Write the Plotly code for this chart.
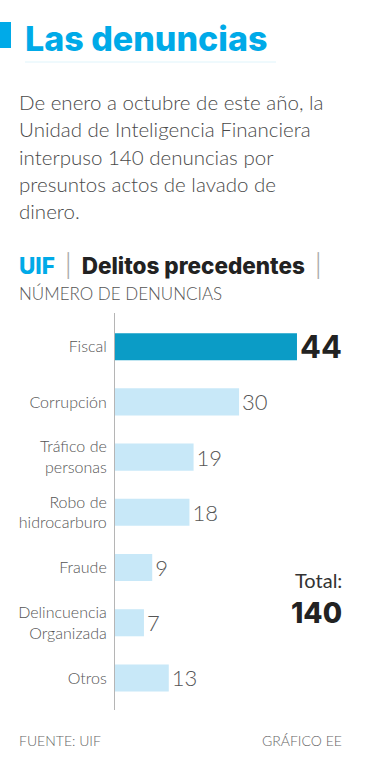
import plotly.graph_objects as go

categories = ["Fiscal", "Corrupción", "Tráfico de<br>personas", "Robo de<br>hidrocarburo",
              "Fraude", "Delincuencia<br>Organizada", "Otros"]
values = [44, 30, 19, 18, 9, 7, 13]
total = 140
title = "Las denuncias"
intro_lines = ["De enero a octubre de este año, la",
               "Unidad de Inteligencia Financiera",
               "interpuso 140 denuncias por",
               "presuntos actos de lavado de",
               "dinero."]

W, H = 368, 768
L, R, T, B = 115, 23, 313, 58
PW, PH = W - L - R, H - T - B

def px(x):
    return (x - L) / PW

def py(y):
    return (H - B - y) / PH

FONT = "Lato"
HEAVY = "Inter"
dark_bar = "#0b9cc6"
light_bar = "#c8e8f8"
cyan = "#00aae8"

colors = [dark_bar if i == 0 else light_bar for i in range(len(values))]
texts = [f"<b>{v}</b>" if i == 0 else str(v) for i, v in enumerate(values)]
tsizes = [31 if i == 0 else 22 for i in range(len(values))]
tcolors = ["#222222" if i == 0 else "#555555" for i in range(len(values))]
tfam = [HEAVY if i == 0 else FONT for i in range(len(values))]

fig = go.Figure(go.Bar(
    x=values, y=categories, orientation="h",
    marker=dict(color=colors, line=dict(width=0)),
    text=texts, textposition="outside", cliponaxis=False, constraintext="none",
    textfont=dict(family=tfam, size=tsizes, color=tcolors, weight=300),
    width=0.49, hoverinfo="skip",
))

fig.update_layout(
    width=W, height=H, margin=dict(l=L, r=R, t=T, b=B, autoexpand=False),
    paper_bgcolor="white", plot_bgcolor="white", showlegend=False,
    font=dict(family=FONT, color="#555555"),
    xaxis=dict(range=[0, PW / 4.136], visible=False, fixedrange=True),
    yaxis=dict(range=[6.58, -0.61], showline=True, linecolor="#b5b5b5", linewidth=1,
               showgrid=False, zeroline=False, ticks="", ticklabelstandoff=4,
               tickfont=dict(family=FONT, size=16, color="#555555", weight=300),
               fixedrange=True),
)

ann = []
def add(text, x, y, size, color="#555555", xanchor="left", yanchor="middle", weight=None, family=FONT):
    f = dict(family=family, size=size, color=color)
    if weight:
        f["weight"] = weight
    ann.append(dict(text=text, x=px(x), y=py(y), xref="paper", yref="paper",
                    xanchor=xanchor, yanchor=yanchor, showarrow=False, font=f,
                    align="left" if xanchor == "left" else "right"))

add(title, 23, 38, 34, color=cyan, weight=800, family=HEAVY)
for i, line in enumerate(intro_lines):
    add(line, 17, 102 + i * 27.3, 20.5, color="#4a4a4a", weight=300)
add("<span style='color:%s'>UIF</span>  <span style='color:#aaaaaa;font-weight:300'>|</span>  "
    "Delitos precedentes  <span style='color:#aaaaaa;font-weight:300'>|</span>" % cyan,
    17, 265, 22.5, color="#222222", weight=800, family=HEAVY)
add("NÚMERO DE DENUNCIAS", 17, 293, 17, color="#555555", weight=300)
add("Total:", 344, 580, 20, color="#333333", xanchor="right")
add(str(total), 344, 613, 28, color="#222222", xanchor="right", weight=800, family=HEAVY)
add("FUENTE: UIF", 17, 740, 14, color="#666666", weight=300)
add("GRÁFICO EE", 344, 740, 14, color="#666666", xanchor="right", weight=300)
fig.update_layout(annotations=ann)

fig.add_shape(type="rect", xref="paper", yref="paper", x0=px(0), x1=px(11), y0=py(22), y1=py(48),
              fillcolor=cyan, line=dict(width=0))
fig.add_shape(type="line", xref="paper", yref="paper", x0=px(25), x1=px(276), y0=py(62), y1=py(62),
              line=dict(color="#dff4fb", width=1))

fig.write_html("out.html", config={"displayModeBar": False},
               post_script="document.body.style.margin='0';document.documentElement.style.overflow='hidden';")
